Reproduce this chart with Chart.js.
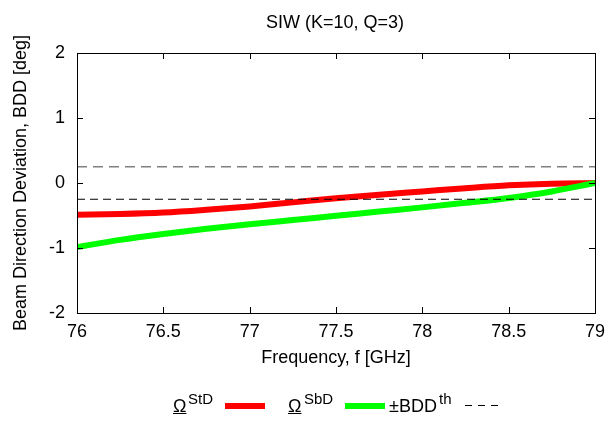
<!DOCTYPE html>
<html>
<head>
<meta charset="utf-8">
<script src="https://cdn.jsdelivr.net/npm/chart.js@4.4.1/dist/chart.umd.min.js"></script>
<style>
  html, body { margin: 0; padding: 0; background: #fff; }
  #wrap { position: relative; width: 610px; height: 421px; font-family: "Liberation Sans", Arial, sans-serif; color: #000; }
  canvas { position: absolute; left: 0; top: 0; }
  .t { position: absolute; white-space: nowrap; font-size: 18px; line-height: 18px; }
  .s { position: absolute; white-space: nowrap; font-size: 15px; line-height: 15px; }
  .sw { position: absolute; }
</style>
</head>
<body>
<div id="wrap">
  <canvas id="c" width="610" height="421"></canvas>
  <div class="t" id="title" style="left:0; width:670px; text-align:center; top:13px;">SIW (K=10, Q=3)</div>
  <div class="t" style="left:173px; top:397px;"><u>Ω</u></div>
  <div class="s" style="left:188px; top:391px;">StD</div>
  <div class="sw" style="left:225px; top:403px; width:40px; height:6px; background:#ff0000;"></div>
  <div class="t" style="left:288px; top:397px;"><u>Ω</u></div>
  <div class="s" style="left:304px; top:391px;">SbD</div>
  <div class="sw" style="left:345px; top:403px; width:40px; height:6px; background:#00ff00;"></div>
  <div class="t" style="left:389px; top:397px;">±BDD</div>
  <div class="s" style="left:439px; top:391px;">th</div>
  <div class="sw" style="left:465px; top:405px; width:36px; height:1px; background:repeating-linear-gradient(to right,#000 0 7px,transparent 7px 13px);"></div>
</div>
<script>
// ---- data ----
const freqGHz = [76, 76.25, 76.5, 76.75, 77, 77.25, 77.5, 77.75, 78, 78.25, 78.5, 78.75, 79];
const omegaStD = [-0.49, -0.478, -0.455, -0.412, -0.36, -0.298, -0.235, -0.18, -0.13, -0.08, -0.036, -0.01, 0];
const omegaSbD = [-0.985, -0.875, -0.785, -0.705, -0.635, -0.57, -0.505, -0.44, -0.375, -0.305, -0.23, -0.13, 0];
const bddRange = [76, 79];
const bddUpper = [0.25, 0.25];
const bddLower = [-0.25, -0.25];
const xTicks = [76, 76.5, 77, 77.5, 78, 78.5, 79];
const yTicks = [-2, -1, 0, 1, 2];

const pts = (xs, ys) => xs.map((x, i) => ({x: x, y: ys[i]}));
const FONT = {family: '"Liberation Sans", Arial, sans-serif', size: 18};

const framePlugin = {
  id: 'frame',
  afterDatasetsDraw(chart) {
    const {ctx, chartArea: a, scales} = chart;
    ctx.save();
    ctx.strokeStyle = '#000';
    ctx.lineWidth = 1;
    ctx.beginPath();
    const L = 6;
    yTicks.forEach(v => {
      const y = Math.round(scales.y.getPixelForValue(v)) + 0.5;
      ctx.moveTo(a.left, y); ctx.lineTo(a.left + L, y);
      ctx.moveTo(a.right, y); ctx.lineTo(a.right - L, y);
    });
    xTicks.forEach(v => {
      const x = Math.round(scales.x.getPixelForValue(v)) + 0.5;
      ctx.moveTo(x, a.bottom); ctx.lineTo(x, a.bottom - L);
      ctx.moveTo(x, a.top); ctx.lineTo(x, a.top + L);
    });
    ctx.stroke();
    ctx.strokeRect(Math.round(a.left) + 0.5, Math.round(a.top) + 0.5, Math.round(a.right - a.left), Math.round(a.bottom - a.top));
    ctx.restore();
  }
};

Chart.defaults.color = '#000';
new Chart(document.getElementById('c'), {
  type: 'line',
  data: {
    datasets: [
      {label: 'BDD+', data: pts(bddRange, bddUpper), borderColor: '#808080', borderWidth: 1.5, borderDash: [10, 6], pointRadius: 0, order: 0},
      {label: 'BDD-', data: pts(bddRange, bddLower), borderColor: '#000', borderWidth: 1, borderDash: [8, 5], pointRadius: 0, order: 0},
      {label: 'SbD', data: pts(freqGHz, omegaSbD), borderColor: '#00ff00', borderWidth: 6, pointRadius: 0, cubicInterpolationMode: 'monotone', order: 1},
      {label: 'StD', data: pts(freqGHz, omegaStD), borderColor: '#ff0000', borderWidth: 6, pointRadius: 0, cubicInterpolationMode: 'monotone', order: 2}
    ]
  },
  options: {
    responsive: false,
    animation: false,
    events: [],
    layout: {padding: {left: 0, right: 15, top: 53, bottom: 48}},
    plugins: {legend: {display: false}, tooltip: {enabled: false}, title: {display: false}},
    scales: {
      x: {
        type: 'linear', min: 76, max: 79,
        afterBuildTicks: s => { s.ticks = xTicks.map(v => ({value: v})); },
        afterFit: s => { s.height = 60; s.paddingLeft = 0; s.paddingRight = 0; },
        grid: {display: false, drawTicks: false},
        border: {display: false},
        ticks: {font: FONT, padding: 8, maxRotation: 0, autoSkip: false, callback: v => String(v)},
        title: {display: true, text: 'Frequency, f [GHz]', font: FONT, padding: {top: 0, bottom: 4}}
      },
      y: {
        type: 'linear', min: -2, max: 2,
        afterBuildTicks: s => { s.ticks = yTicks.map(v => ({value: v})); },
        afterFit: s => { s.width = 77; s.paddingTop = 0; s.paddingBottom = 0; },
        grid: {display: false, drawTicks: false},
        border: {display: false},
        ticks: {font: FONT, padding: 12, callback: v => String(v)},
        title: {display: true, text: 'Beam Direction Deviation, BDD [deg]', font: FONT, padding: {top: 10, bottom: 0}}
      }
    }
  },
  plugins: [framePlugin]
});
</script>
</body>
</html>
